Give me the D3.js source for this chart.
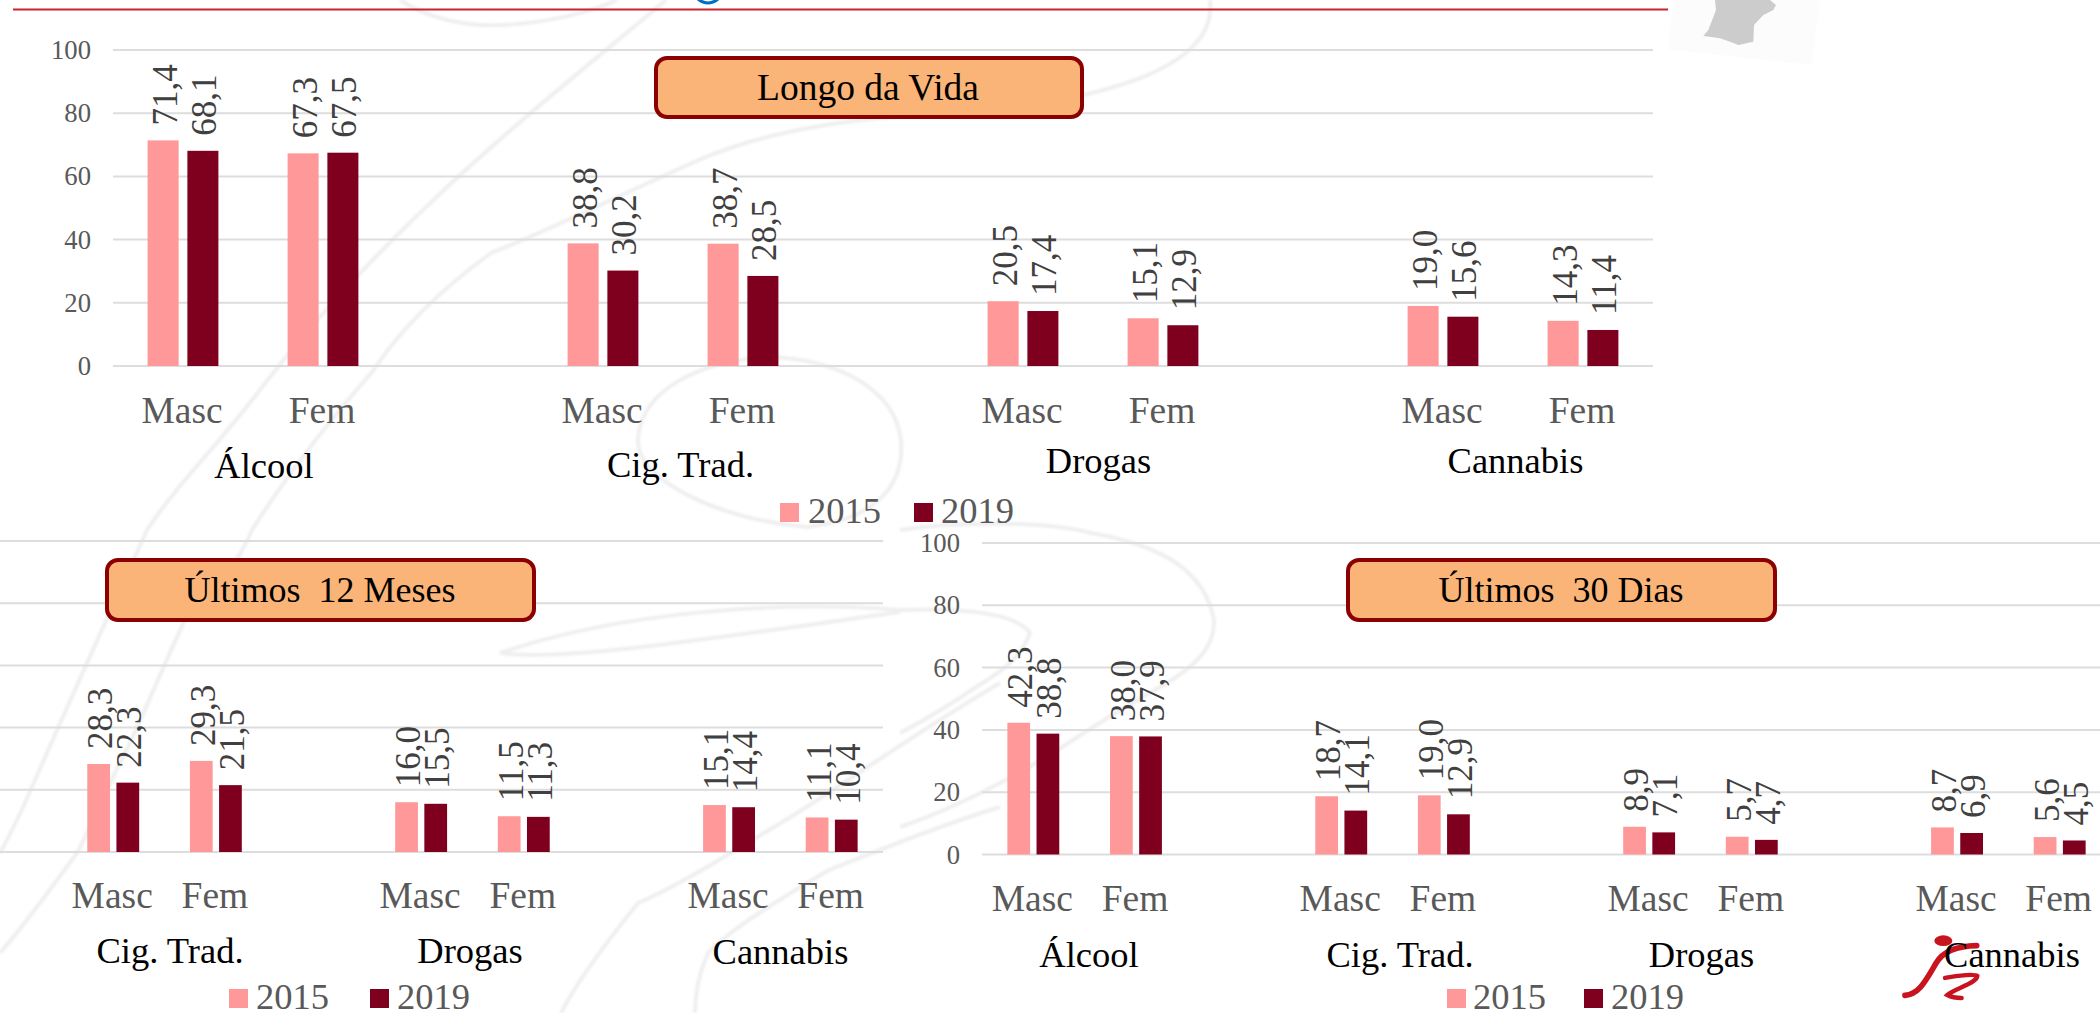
<!DOCTYPE html>
<html><head><meta charset="utf-8">
<script src="https://cdn.jsdelivr.net/npm/d3@7"></script>
<style>
html,body{margin:0;padding:0;background:#fff;overflow:hidden}
svg{display:block}
text{font-family:"Liberation Serif","Times New Roman",serif;white-space:pre}
</style></head><body><div id="c"></div>
<script>
// ---- data ----
const years = ["2015", "2019"];
const sexes = ["Masc", "Fem"];
const groups = ["Álcool", "Cig. Trad.", "Drogas", "Cannabis"];
const yTicks = [0, 20, 40, 60, 80, 100];

const vida2015 = [71.4, 67.3, 38.8, 38.7, 20.5, 15.1, 19.0, 14.3];
const vida2019 = [68.1, 67.5, 30.2, 28.5, 17.4, 12.9, 15.6, 11.4];
const meses2015 = [28.3, 29.3, 16.0, 11.5, 15.1, 11.1];
const meses2019 = [22.3, 21.5, 15.5, 11.3, 14.4, 10.4];
const dias2015 = [42.3, 38.0, 18.7, 19.0, 8.9, 5.7, 8.7, 5.6];
const dias2019 = [38.8, 37.9, 14.1, 12.9, 7.1, 4.7, 6.9, 4.5];

const titles = ["Longo da Vida", "Últimos  12 Meses", "Últimos  30 Dias"];

// ---- layout ----
const W = 2100, H = 1013;
const colors = {"2015": "#FF9999", "2019": "#7F001E"};
const svg = d3.select("#c").append("svg").attr("width", W).attr("height", H);
svg.append("defs").append("filter").attr("id", "soft")
  .append("feGaussianBlur").attr("stdDeviation", 1.2);

// slots: group|sex plus one blank slot between groups, 11 in all
const slots = [];
groups.forEach((g, i) => {
  sexes.forEach(s => slots.push(g + "|" + s));
  if (i < groups.length - 1) slots.push("blank" + i);
});

// ---- watermark ----
const wm = svg.append("g").attr("fill", "none").attr("stroke", "#efefef")
  .attr("stroke-width", 4).attr("filter", "url(#soft)");
[
  "M666,0 C560,90 400,210 266,382 C215,450 180,480 147,530 C120,590 70,700 32,787 C22,810 10,835 0,853",
  "M982,112 C860,115 770,130 701,159 C620,195 550,230 491,253 C440,290 400,330 372,372 C330,420 290,470 252,530 C230,580 210,590 191,607 C170,650 150,700 128,747 C105,790 95,820 77,853 C50,890 20,930 0,953",
  "M400,0 C430,20 470,27 505,25 C550,22 590,12 617,0",
  "M1210,0 C1215,40 1180,75 1070,98",
  "M772,357 C700,360 640,390 638,440 C636,480 720,520 807,527 C870,520 905,490 901,440 C895,390 840,360 772,357",
  "M900,530 C960,522 1040,520 1091,533 C1160,545 1205,570 1214,620 C1215,650 1190,670 1160,687 C1110,715 1080,735 1053,753 C1000,785 950,810 900,827",
  "M500,653 C620,612 780,600 900,610 C960,608 1015,612 1030,633 C1020,660 1000,672 976,687 C950,705 925,720 900,733",
  "M500,653 C560,662 700,640 900,612",
  "M1000,683 C920,730 850,780 797,813 C720,860 670,890 638,903 C600,950 575,985 561,1013",
  "M1000,807 C940,825 880,850 829,870 C770,905 730,930 708,953 C698,975 695,995 695,1013"
].forEach(d => wm.append("path").attr("d", d));

// ---- map ornament, top right ----
const mapX = d3.scaleLinear().domain([0, 600]).range([1640, 1840]);
const mapY = d3.scaleLinear().domain([0, 240]).range([0, 80]);
const mapLine = d3.line().x(d => mapX(d[0])).y(d => mapY(d[1])).curve(d3.curveLinearClosed);
svg.append("path").attr("fill", "#fcfcfc")
  .attr("d", mapLine([[100,0],[85,148],[515,195],[540,0]]));
svg.append("path").attr("fill", "#cccccc")
  .attr("d", mapLine([[225,0],[228,30],[205,90],[190,108],[240,115],[270,125],[295,135],[340,125],[342,75],[370,45],[400,30],[408,15],[390,0]]));

// ---- header rule and cropped title descender ----
svg.append("line").attr("x1", 13).attr("x2", 1668).attr("y1", 9.5).attr("y2", 9.5)
  .attr("stroke", "#C8242B").attr("stroke-width", 2);
svg.append("path").attr("d", "M698,-1 Q708,7 718,-1").attr("fill", "none")
  .attr("stroke", "#0070C0").attr("stroke-width", 3);

// ---- panels ----
function panel(o) {
  const g = svg.append("g");
  const x = d3.scaleBand().domain(slots).range(o.xRange).padding(0);
  const y = d3.scaleLinear().domain([0, 100]).range([o.y0, o.y100]);
  const sub = d3.scaleBand().domain(years).range([0, x.bandwidth()])
    .paddingInner(0.22).paddingOuter(0.87);
  const used = slots.filter(s => o.groups.some(gr => s.startsWith(gr + "|")));

  // gridlines
  const x1 = Math.max(0, o.xRange[0]), x2 = Math.min(W, o.xRange[1]);
  g.append("g").selectAll("line").data(yTicks).join("line")
    .attr("x1", x1).attr("x2", x2)
    .attr("y1", d => y(d)).attr("y2", d => y(d))
    .attr("stroke", "#DDDDDD").attr("stroke-width", 2);

  // value axis
  if (o.showY) {
    const ax = g.append("g").attr("transform", `translate(${o.xRange[0]},0)`)
      .call(d3.axisLeft(y).tickValues(yTicks).tickSize(0).tickPadding(22));
    ax.select(".domain").remove();
    ax.selectAll("text").attr("font-size", 26.7).attr("fill", "#595959")
      .style("font-family", '"Liberation Serif",serif');
  }

  // bars
  const rows = [];
  used.forEach((s, i) => {
    rows.push({slot: s, year: "2015", v: o.a[i]});
    rows.push({slot: s, year: "2019", v: o.b[i]});
  });
  g.append("g").selectAll("rect").data(rows).join("rect")
    .attr("x", d => x(d.slot) + sub(d.year))
    .attr("width", sub.bandwidth())
    .attr("y", d => y(d.v))
    .attr("height", d => y(0) - y(d.v))
    .attr("fill", d => colors[d.year]);

  // value labels
  g.append("g").selectAll("text").data(rows).join("text")
    .attr("transform", d => `translate(${x(d.slot) + sub(d.year) + sub.bandwidth() / 2 + 2},${y(d.v) - 15}) rotate(-90)`)
    .attr("dy", "0.33em").attr("font-size", 35).attr("fill", "#404040")
    .text(d => d3.format(".1f")(d.v).replace(".", ","));

  // sex labels
  const cat = g.append("g").attr("transform", `translate(-1,${o.sexBase})`)
    .call(d3.axisBottom(x).tickValues(used).tickSize(0).tickPadding(0).tickFormat(s => s.split("|")[1]));
  cat.select(".domain").remove();
  cat.selectAll("text").attr("font-size", 37.5).attr("fill", "#595959").attr("dy", 0).attr("y", 0)
    .style("font-family", '"Liberation Serif",serif');

  // logo sits beneath the last category label
  if (o.logo) o.logo(g);

  // group labels
  o.groups.forEach((name, i) => {
    g.append("text").attr("x", o.groupX[i]).attr("y", o.groupBase[i])
      .attr("text-anchor", "middle").attr("font-size", 36.5).attr("fill", "#000").text(name);
  });

  // title box
  g.append("rect").attr("x", o.box[0]).attr("y", o.box[1])
    .attr("width", o.box[2] - o.box[0]).attr("height", o.box[3] - o.box[1])
    .attr("rx", 11).attr("fill", "#FBB477").attr("stroke", "#8B0000").attr("stroke-width", 4);
  g.append("text").attr("x", o.titleX).attr("y", o.titleBase)
    .attr("text-anchor", "middle").attr("font-size", o.titleSize).attr("fill", "#000").text(o.title);

  // legend
  years.forEach((yr, i) => {
    g.append("rect").attr("x", o.legRect[i]).attr("y", o.legY).attr("width", 19).attr("height", 19)
      .attr("fill", colors[yr]);
    g.append("text").attr("x", o.legText[i]).attr("y", o.legY + 20)
      .attr("font-size", 36.5).attr("fill", "#595959").text(yr);
  });
}

panel({
  xRange: [113, 1653], y0: 366, y100: 50, showY: true, a: vida2015, b: vida2019,
  groups: groups, sexBase: 422.5,
  groupX: [264, 680.5, 1098.5, 1515.5], groupBase: [478, 477, 473, 473],
  box: [656, 58, 1082, 117], title: titles[0], titleX: 868, titleBase: 100, titleSize: 37.5,
  legRect: [780, 914], legText: [808, 941], legY: 503
});

panel({
  xRange: [-246, 883], y0: 852, y100: 541, showY: false, a: meses2015, b: meses2019,
  groups: groups.slice(1), sexBase: 908,
  groupX: [170, 470, 780.5], groupBase: [963, 963, 964],
  box: [107, 560, 534, 620], title: titles[1], titleX: 320, titleBase: 602, titleSize: 36,
  legRect: [229, 370], legText: [256, 397], legY: 989
});

panel({
  xRange: [982, 2111], y0: 854.5, y100: 543, showY: true, a: dias2015, b: dias2019,
  groups: groups, sexBase: 911,
  groupX: [1089, 1400, 1701.5, 2012], groupBase: [967, 967, 967, 967],
  box: [1348, 560, 1775, 620], title: titles[2], titleX: 1561, titleBase: 602, titleSize: 36,
  legRect: [1447, 1584], legText: [1473, 1611], legY: 989,
  logo: g => {
    const lg = g.append("g").attr("transform", "translate(1860,900) scale(0.3333)")
      .attr("fill", "none").attr("stroke", "#C8141E").attr("stroke-linecap", "round");
    lg.append("ellipse").attr("cx", 250).attr("cy", 122).attr("rx", 27).attr("ry", 16)
      .attr("fill", "#C8141E").attr("stroke", "none");
    lg.append("path").attr("stroke-width", 17)
      .attr("d", "M135,286 C178,283 198,240 228,190 C248,155 285,138 350,137");
    lg.append("path").attr("stroke-width", 13)
      .attr("d", "M255,234 C300,225 345,222 352,228 C350,250 285,265 262,285 C275,292 295,294 305,294");
  }
});
</script></body></html>
